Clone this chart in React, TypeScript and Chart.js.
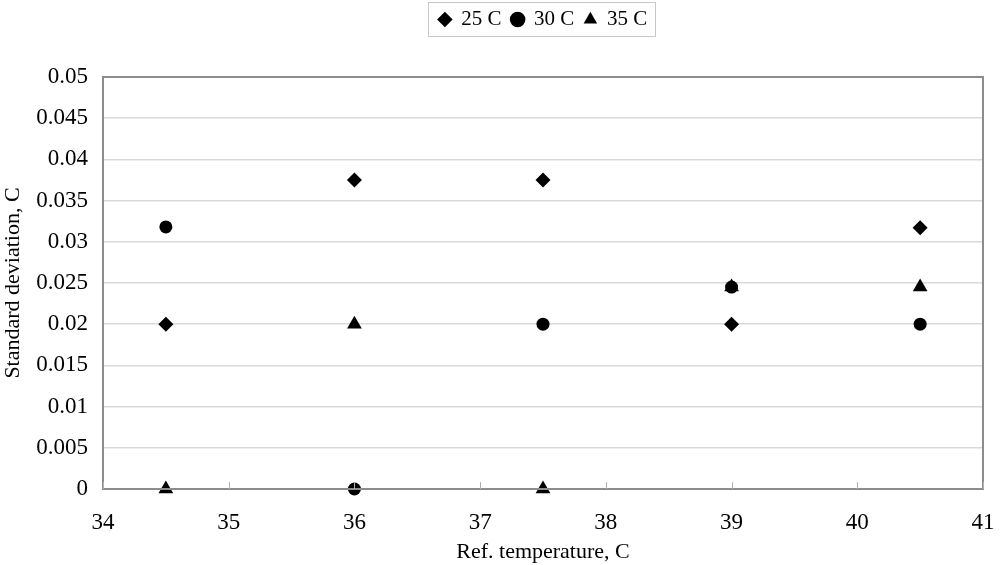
import React, { useEffect, useRef } from "react";
import { Chart, registerables } from "chart.js";

Chart.register(...registerables);

const refTemps = [34.5, 36, 37.5, 39, 40.5];
const sd25 = [0.02, 0.0375, 0.0375, 0.02, 0.0317];
const sd30 = [0.0318, 0, 0.02, 0.0245, 0.02];
const sd35 = [0, 0.02, 0, 0.0245, 0.0245];
const seriesLabels = ["25 C", "30 C", "35 C"];
const xTitle = "Ref. temperature, C";
const yTitle = "Standard deviation, C";

const FONT = "'Liberation Serif', 'DejaVu Serif', serif";

const toPts = (ys: number[]) => refTemps.map((x, i) => ({ x, y: ys[i] }));

const framePlugin = {
  id: "frame",
  beforeInit(chart: any) {
    const lg = chart.legend;
    if (lg) {
      const orig = lg.fit;
      lg.fit = function () {
        orig.call(this);
        this.height = 77;
      };
    }
  },
  afterLayout(chart: any) {
    const lg = chart.legend;
    if (lg) {
      const shift = 543 - (lg.left + lg.right) / 2;
      lg.left += shift;
      lg.right += shift;
      lg.top -= 1;
    }
  },
  afterDraw(chart: any) {
    const ctx = chart.ctx;
    const { left, right, top, bottom } = chart.chartArea;
    ctx.save();
    ctx.strokeStyle = "#8c8c8c";
    ctx.lineWidth = 2;
    ctx.strokeRect(left, top, right - left, bottom - top);
    const xs = chart.scales.x;
    ctx.lineWidth = 1;
    ctx.strokeStyle = "#b0b0b0";
    xs.ticks.forEach((t: any) => {
      const px = Math.round(xs.getPixelForValue(t.value)) + 0.5;
      ctx.beginPath();
      ctx.moveTo(px, bottom);
      ctx.lineTo(px, bottom - 7);
      ctx.stroke();
    });
    const lg = chart.legend;
    if (lg && lg.legendHitBoxes && lg.legendHitBoxes.length) {
      const boxes = lg.legendHitBoxes;
      const minX = Math.min(...boxes.map((b: any) => b.left));
      const maxX = Math.max(...boxes.map((b: any) => b.left + b.width));
      ctx.strokeStyle = "#c8c8c8";
      ctx.lineWidth = 1;
      ctx.strokeRect(Math.round(minX) - 10.5, 2.5, Math.round(maxX - minX) + 19, 34);
    }
    ctx.restore();
  },
};

export default function App() {
  const ref = useRef<HTMLCanvasElement>(null);
  useEffect(() => {
    document.body.style.margin = "0";
    const mk = (label: string, data: number[], style: string, r: number) => ({
      label,
      data: toPts(data),
      pointStyle: style,
      pointRadius: r,
      pointHoverRadius: r,
      backgroundColor: "#000",
      borderColor: "#000",
      borderWidth: 0,
      showLine: false,
      clip: false as any,
    });
    const chart = new Chart(ref.current!, {
      type: "scatter",
      data: {
        datasets: [
          mk(seriesLabels[0], sd25, "rectRot", 7.5),
          mk(seriesLabels[1], sd30, "circle", 6.5),
          mk(seriesLabels[2], sd35, "triangle", 8.5),
        ],
      },
      options: {
        animation: false,
        responsive: false,
        layout: { padding: { left: 0, right: 17, top: 0, bottom: 0 } },
        plugins: {
          tooltip: { enabled: false },
          legend: {
            position: "top",
            labels: {
              usePointStyle: true,
              boxWidth: 12,
              boxHeight: 11,
              color: "#000",
              padding: 10,
              font: { family: FONT, size: 21 },
              generateLabels: (c: any) =>
                c.data.datasets.map((d: any, i: number) => ({
                  text: d.label,
                  fillStyle: "#000",
                  strokeStyle: "#000",
                  lineWidth: 0,
                  pointStyle: d.pointStyle,
                  datasetIndex: i,
                  fontColor: "#000",
                })),
            },
          },
        },
        scales: {
          x: {
            type: "linear",
            min: 34,
            max: 41,
            afterFit: (s: any) => {
              s.height = 76;
              s.paddingLeft = 0;
              s.paddingRight = 0;
            },
            ticks: {
              stepSize: 1,
              color: "#000",
              padding: 20,
              font: { family: FONT, size: 23 },
            },
            grid: { display: false, drawTicks: false },
            border: { display: false },
            title: {
              display: true,
              text: xTitle,
              color: "#000",
              font: { family: FONT, size: 22 },
              padding: { top: 2, bottom: 0 },
            },
          },
          y: {
            type: "linear",
            min: 0,
            max: 0.05,
            afterFit: (s: any) => {
              s.width = 103;
              s.paddingTop = 0;
              s.paddingBottom = 0;
            },
            ticks: {
              stepSize: 0.005,
              color: "#000",
              padding: 15,
              font: { family: FONT, size: 23 },
              callback: (v: any) => String(Number(Number(v).toFixed(3))),
            },
            grid: { color: "#d9d9d9", lineWidth: 1.5, drawTicks: false },
            border: { display: false },
            title: {
              display: true,
              text: yTitle,
              color: "#000",
              font: { family: FONT, size: 22 },
              padding: { top: 0, bottom: 0 },
            },
          },
        },
      },
      plugins: [framePlugin],
    });
    return () => chart.destroy();
  }, []);
  return (
    <div style={{ width: 1000, height: 565, position: "relative" }}>
      <canvas ref={ref} width={1000} height={565} style={{ display: "block" }} />
    </div>
  );
}
